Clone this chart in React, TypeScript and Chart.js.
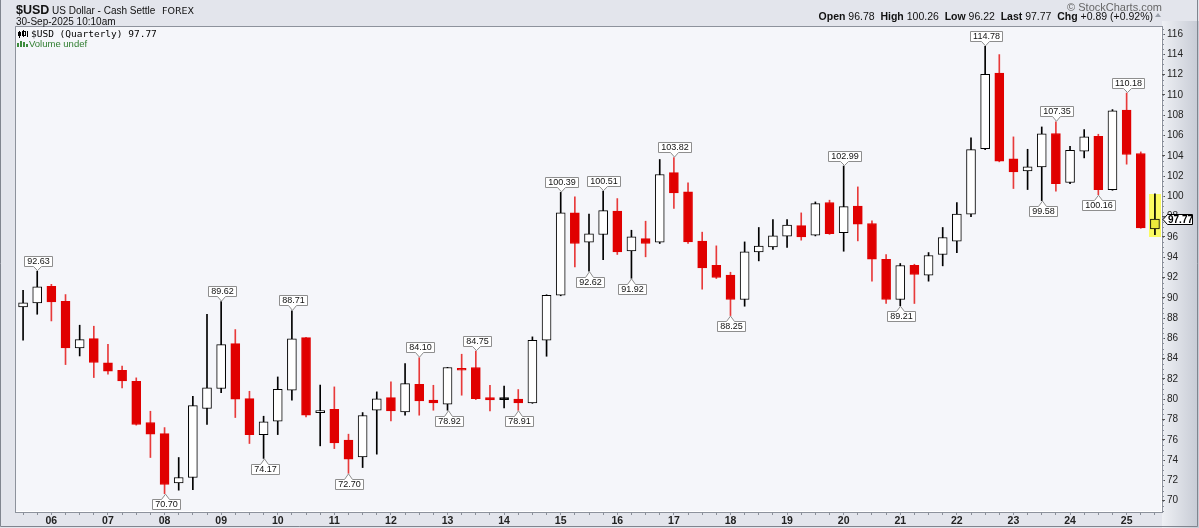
import React, { useEffect, useRef } from "react";
import { Chart, registerables } from "chart.js";

Chart.register(...registerables);

// ---- data (quarterly $USD candles, 2005 Q3 .. 2025 Q3) ----
const categories: string[] = [
  "2005-Q3", "2005-Q4",
  "2006-Q1", "2006-Q2", "2006-Q3", "2006-Q4",
  "2007-Q1", "2007-Q2", "2007-Q3", "2007-Q4",
  "2008-Q1", "2008-Q2", "2008-Q3", "2008-Q4",
  "2009-Q1", "2009-Q2", "2009-Q3", "2009-Q4",
  "2010-Q1", "2010-Q2", "2010-Q3", "2010-Q4",
  "2011-Q1", "2011-Q2", "2011-Q3", "2011-Q4",
  "2012-Q1", "2012-Q2", "2012-Q3", "2012-Q4",
  "2013-Q1", "2013-Q2", "2013-Q3", "2013-Q4",
  "2014-Q1", "2014-Q2", "2014-Q3", "2014-Q4",
  "2015-Q1", "2015-Q2", "2015-Q3", "2015-Q4",
  "2016-Q1", "2016-Q2", "2016-Q3", "2016-Q4",
  "2017-Q1", "2017-Q2", "2017-Q3", "2017-Q4",
  "2018-Q1", "2018-Q2", "2018-Q3", "2018-Q4",
  "2019-Q1", "2019-Q2", "2019-Q3", "2019-Q4",
  "2020-Q1", "2020-Q2", "2020-Q3", "2020-Q4",
  "2021-Q1", "2021-Q2", "2021-Q3", "2021-Q4",
  "2022-Q1", "2022-Q2", "2022-Q3", "2022-Q4",
  "2023-Q1", "2023-Q2", "2023-Q3", "2023-Q4",
  "2024-Q1", "2024-Q2", "2024-Q3", "2024-Q4",
  "2025-Q1", "2025-Q2", "2025-Q3",
];

const opens: number[] = [
  89.10, 89.50,
  91.14, 89.66, 85.06, 85.98,
  83.58, 82.86, 81.78, 77.71,
  76.62, 71.76, 72.29, 79.09,
  81.06, 85.49, 80.07, 76.52,
  77.84, 80.89, 86.08, 78.69,
  79.02, 75.97, 74.32, 78.92,
  80.17, 78.76, 81.48, 79.91,
  79.51, 83.03, 83.13, 80.17,
  80.17, 80.01, 79.64, 85.82,
  90.26, 98.37, 95.48, 96.24,
  98.54, 94.63, 95.84, 95.48,
  102.34, 100.44, 95.58, 93.21,
  92.23, 89.83, 94.53, 95.02,
  96.07, 97.12, 96.17, 99.39,
  96.43, 99.03, 97.32, 93.80,
  89.83, 93.21, 92.23, 94.27,
  95.58, 98.24, 104.71, 112.16,
  103.69, 102.51, 102.90, 106.19,
  101.36, 104.45, 105.92, 100.67,
  108.49, 104.22, 96.78,
];

const highs: number[] = [
  90.74, 92.63,
  91.33, 90.32, 87.30, 87.20,
  85.42, 83.26, 82.11, 78.82,
  77.21, 74.26, 80.30, 88.38,
  89.62, 86.87, 80.79, 78.33,
  82.20, 88.71, 86.10, 81.40,
  81.22, 76.56, 78.69, 80.73,
  81.71, 83.52, 84.10, 81.38,
  83.15, 84.44, 84.75, 81.38,
  81.29, 80.96, 86.15, 90.30,
  100.39, 99.95, 98.24, 100.51,
  99.78, 96.66, 97.55, 103.63,
  103.82, 101.33, 96.47, 95.12,
  92.52, 95.51, 96.93, 97.71,
  97.71, 98.37, 99.45, 99.62,
  102.99, 100.93, 97.58, 94.27,
  93.38, 93.31, 94.46, 96.93,
  99.39, 105.76, 114.78, 113.97,
  105.86, 104.64, 106.84, 107.35,
  104.94, 106.58, 106.12, 108.55,
  110.18, 104.38, 100.26,
];

const lows: number[] = [
  85.82, 88.38,
  87.72, 83.42, 84.27, 82.14,
  82.47, 81.12, 77.45, 74.26,
  70.70, 71.04, 71.10, 77.51,
  80.66, 78.20, 75.64, 74.17,
  76.52, 79.90, 78.27, 75.41,
  75.14, 72.70, 73.27, 74.59,
  77.87, 78.43, 78.43, 78.92,
  78.92, 80.40, 79.97, 78.86,
  79.15, 78.91, 79.60, 84.24,
  90.20, 93.05, 92.62, 93.77,
  94.27, 91.92, 94.04, 95.35,
  98.80, 95.35, 90.85, 91.90,
  88.25, 89.17, 93.64, 94.76,
  94.96, 95.68, 96.10, 96.25,
  94.59, 95.61, 91.64, 89.44,
  89.21, 89.44, 91.64, 93.15,
  94.46, 98.00, 104.60, 103.40,
  100.77, 100.67, 99.58, 100.50,
  101.26, 103.79, 100.16, 100.60,
  103.17, 96.85, 96.22,
];

const closes: number[] = [
  89.50, 91.07,
  89.60, 85.06, 85.88, 83.62,
  82.76, 81.81, 77.51, 76.56,
  71.60, 72.29, 79.38, 81.12,
  85.39, 80.00, 76.52, 77.77,
  80.99, 85.95, 78.43, 78.86,
  75.70, 74.09, 78.40, 80.04,
  78.86, 81.55, 79.84, 79.64,
  83.13, 82.86, 80.07, 79.93,
  79.97, 79.64, 85.82, 90.25,
  98.37, 95.35, 96.30, 98.60,
  94.53, 96.01, 95.35, 102.15,
  100.34, 95.51, 92.95, 92.00,
  89.83, 94.53, 95.09, 96.10,
  97.16, 96.00, 99.29, 96.33,
  98.99, 97.25, 93.80, 89.83,
  93.18, 92.30, 94.17, 95.94,
  98.24, 104.61, 112.03, 103.46,
  102.41, 102.90, 106.15, 101.26,
  104.54, 105.86, 100.67, 108.42,
  104.12, 96.88, 97.77,
];

// quarters whose high / low carry a callout label
const highLabelQuarters: string[] = [
  "2005-Q4", "2009-Q1", "2010-Q2", "2012-Q3", "2013-Q3", "2015-Q1",
  "2015-Q4", "2017-Q1", "2020-Q1", "2022-Q3", "2023-Q4", "2025-Q1",
];
const lowLabelQuarters: string[] = [
  "2008-Q1", "2009-Q4", "2011-Q2", "2013-Q1", "2014-Q2", "2015-Q3",
  "2016-Q2", "2018-Q1", "2021-Q1", "2023-Q3", "2024-Q3",
];

const yTicks: number[] = [
  70, 72, 74, 76, 78, 80, 82, 84, 86, 88, 90, 92, 94, 96, 98, 100,
  102, 104, 106, 108, 110, 112, 114, 116,
];
const yMin = 68.89;
const yMax = 116.69;

const W = 1199;
const H = 528;
const RED = "#e00000";
const SANS = '"Liberation Sans", Arial, sans-serif';

export default function App() {
  const ref = useRef<HTMLCanvasElement>(null);

  useEffect(() => {
    const canvas = ref.current;
    if (!canvas) return;
    const n = categories.length;
    const last = n - 1;

    const tone = (i: number) => {
      if (i === last) return "#000";
      const prev = i > 0 ? closes[i - 1] : opens[i];
      return closes[i] < prev ? RED : "#000";
    };
    const bodyFill = categories.map((_, i) =>
      i === last ? "#ecea3c" : closes[i] >= opens[i] ? "#ffffff" : tone(i)
    );
    const bodyBorder = categories.map((_, i) => tone(i));
    const wickColor = categories.map((_, i) => (tone(i) === RED ? "#e83a3a" : "#000"));

    const callout = (
      ctx: CanvasRenderingContext2D,
      x: number,
      yTip: number,
      text: string,
      dir: number
    ) => {
      ctx.font = `9px ${SANS}`;
      const tw = ctx.measureText(text).width;
      const w = Math.round(tw + 5);
      const h = 10;
      const notch = 5;
      const hw = 4;
      const bx = Math.round(x - w / 2) + 0.5;
      const edge = Math.round(yTip + dir * notch) + 0.5;
      const far = edge + dir * h;
      ctx.beginPath();
      ctx.moveTo(bx, edge);
      ctx.lineTo(x - hw, edge);
      ctx.lineTo(x, yTip);
      ctx.lineTo(x + hw, edge);
      ctx.lineTo(bx + w, edge);
      ctx.lineTo(bx + w, far);
      ctx.lineTo(bx, far);
      ctx.closePath();
      ctx.fillStyle = "#ffffff";
      ctx.fill();
      ctx.strokeStyle = "#8e8e8e";
      ctx.lineWidth = 1;
      ctx.stroke();
      ctx.fillStyle = "#111";
      ctx.textAlign = "center";
      ctx.textBaseline = "middle";
      ctx.fillText(text, bx + w / 2, (edge + far) / 2 + 0.5);
    };

    const stockPlugin = {
      id: "stockDecor",
      beforeDraw(chart: any) {
        const ctx: CanvasRenderingContext2D = chart.ctx;
        const ca = chart.chartArea;
        ctx.save();
        ctx.fillStyle = "#e3e5ec";
        ctx.fillRect(0, 0, W, H);
        const g = ctx.createLinearGradient(ca.right, 0, W, 0);
        g.addColorStop(0, "#eef0f4");
        g.addColorStop(1, "#c6cad4");
        ctx.fillStyle = g;
        ctx.fillRect(ca.right, ca.top - 6, W - ca.right, H - ca.top + 6);
        ctx.fillStyle = "#f5f6fa";
        ctx.fillRect(ca.left, ca.top, ca.right - ca.left, ca.bottom - ca.top);
        ctx.strokeStyle = "#ffffff";
        ctx.lineWidth = 1;
        ctx.beginPath();
        ctx.moveTo(ca.right - 0.5, ca.top);
        ctx.lineTo(ca.right - 0.5, ca.bottom - 0.5);
        ctx.lineTo(ca.left, ca.bottom - 0.5);
        ctx.stroke();
        ctx.strokeStyle = "#8d929c";
        ctx.strokeRect(ca.left - 0.5, ca.top - 0.5, ca.right - ca.left + 1, ca.bottom - ca.top + 1);
        // outer frame
        ctx.strokeStyle = "#80858f";
        ctx.beginPath();
        ctx.moveTo(0.5, 0);
        ctx.lineTo(0.5, H - 1.5);
        ctx.lineTo(W - 1.5, H - 1.5);
        ctx.lineTo(W - 1.5, 0);
        ctx.stroke();
        ctx.restore();
      },
      beforeDatasetsDraw(chart: any) {
        const ctx: CanvasRenderingContext2D = chart.ctx;
        const xs = chart.scales.x;
        const ys = chart.scales.y;
        const x = xs.getPixelForValue(last);
        const top = ys.getPixelForValue(highs[last]);
        const bot = ys.getPixelForValue(lows[last]) + 2;
        ctx.save();
        ctx.fillStyle = "#fbfb62";
        ctx.fillRect(Math.round(x - 6), Math.round(top), 12, Math.round(bot - top));
        ctx.restore();
      },
      afterDatasetsDraw(chart: any) {
        const ctx: CanvasRenderingContext2D = chart.ctx;
        const xs = chart.scales.x;
        const ys = chart.scales.y;
        const ca = chart.chartArea;
        ctx.save();
        highLabelQuarters.forEach((q) => {
          const i = categories.indexOf(q);
          const x = Math.round(xs.getPixelForValue(i)) + 0.5;
          const y = ys.getPixelForValue(highs[i]) - 0.5;
          callout(ctx, x, y, highs[i].toFixed(2), -1);
        });
        lowLabelQuarters.forEach((q) => {
          const i = categories.indexOf(q);
          const x = Math.round(xs.getPixelForValue(i)) + 0.5;
          const y = ys.getPixelForValue(lows[i]) + 0.5;
          callout(ctx, x, y, lows[i].toFixed(2), 1);
        });

        // minor ticks along the price axis
        ctx.fillStyle = "#8a8f99";
        for (let v = Math.ceil(yMin * 2) / 2; v <= yMax; v += 0.5) {
          const y = Math.round(ys.getPixelForValue(v));
          ctx.fillRect(ca.right, y, 2, 1);
        }

        // last value tag
        const yl = Math.round(ys.getPixelForValue(closes[last])) + 0.5;
        const x0 = ca.right + 1;
        const bx0 = ca.right + 5.5;
        const bx1 = ca.right + 30.5;
        ctx.beginPath();
        ctx.moveTo(x0, yl);
        ctx.lineTo(bx0, yl - 5);
        ctx.lineTo(bx1, yl - 5);
        ctx.lineTo(bx1, yl + 5);
        ctx.lineTo(bx0, yl + 5);
        ctx.closePath();
        ctx.fillStyle = "#ffffff";
        ctx.fill();
        ctx.strokeStyle = "#000";
        ctx.lineWidth = 1;
        ctx.stroke();
        ctx.fillStyle = "#000";
        ctx.font = `bold 10px ${SANS}`;
        ctx.textAlign = "center";
        ctx.textBaseline = "middle";
        ctx.fillText(closes[last].toFixed(2), (bx0 + bx1) / 2 + 0.5, yl + 0.5);
        ctx.restore();
      },
      afterDraw(chart: any) {
        const ctx: CanvasRenderingContext2D = chart.ctx;
        const ca = chart.chartArea;
        ctx.save();
        ctx.textBaseline = "alphabetic";
        ctx.textAlign = "left";
        ctx.fillStyle = "#111";
        ctx.font = `bold 12.5px ${SANS}`;
        ctx.fillText("$USD", 16, 14);
        ctx.font = `10px ${SANS}`;
        ctx.fillText("US Dollar - Cash Settle", 52, 14);
        ctx.font = `9.5px "DejaVu Sans", sans-serif`;
        ctx.fillText("FOREX", 162, 14);
        ctx.font = `10px ${SANS}`;
        ctx.fillText("30-Sep-2025 10:10am", 16, 25);

        // copyright
        ctx.textAlign = "right";
        ctx.fillStyle = "#666";
        ctx.font = `11px ${SANS}`;
        ctx.fillText("\u00a9 StockCharts.com", ca.right, 10.5);

        // OHLC summary line
        const chg = closes[last] - closes[last - 1];
        const pct = (chg / closes[last - 1]) * 100;
        const sign = chg >= 0 ? "+" : "-";
        const segs: [string, boolean][] = [
          ["Open", true], [` ${opens[last].toFixed(2)}  `, false],
          ["High", true], [` ${highs[last].toFixed(2)}  `, false],
          ["Low", true], [` ${lows[last].toFixed(2)}  `, false],
          ["Last", true], [` ${closes[last].toFixed(2)}  `, false],
          ["Chg", true], [` ${sign}${Math.abs(chg).toFixed(2)} (${sign}${Math.abs(pct).toFixed(2)}%)`, false],
        ];
        const fb = `bold 10.5px ${SANS}`;
        const fn = `10.5px ${SANS}`;
        let total = 0;
        segs.forEach(([t, b]) => {
          ctx.font = b ? fb : fn;
          total += ctx.measureText(t).width;
        });
        let cx = ca.right - 9 - total;
        ctx.textAlign = "left";
        ctx.fillStyle = "#111";
        segs.forEach(([t, b]) => {
          ctx.font = b ? fb : fn;
          ctx.fillText(t, cx, 19.5);
          cx += ctx.measureText(t).width;
        });
        ctx.fillStyle = "#9aa0aa";
        ctx.beginPath();
        ctx.moveTo(ca.right - 7, 17);
        ctx.lineTo(ca.right - 1, 17);
        ctx.lineTo(ca.right - 4, 13);
        ctx.closePath();
        ctx.fill();

        // in-chart legend
        ctx.fillStyle = "#000";
        ctx.fillRect(19, 31, 1, 7);
        ctx.fillRect(18, 32, 3, 4);
        ctx.fillRect(23, 30, 1, 7);
        ctx.strokeStyle = "#000";
        ctx.lineWidth = 1;
        ctx.strokeRect(22.5, 31.5, 3, 4);
        ctx.fillRect(27, 31, 1, 6);
        ctx.font = `9.5px "DejaVu Sans Mono", monospace`;
        ctx.fillText(`$USD (Quarterly) ${closes[last].toFixed(2)}`, 31, 37);
        ctx.fillStyle = "#3c8c3c";
        ctx.fillRect(17, 43, 2, 4);
        ctx.fillRect(20, 41, 2, 6);
        ctx.fillRect(23, 42, 2, 5);
        ctx.fillRect(26, 44, 2, 3);
        ctx.fillStyle = "#2e7d2e";
        ctx.font = `9.5px ${SANS}`;
        ctx.fillText("Volume undef", 29, 46.5);
        ctx.restore();
      },
    };

    const chart = new Chart(canvas, {
      type: "bar",
      data: {
        labels: categories,
        datasets: [
          {
            label: "body",
            data: categories.map((_, i) => [opens[i], closes[i]]) as any,
            backgroundColor: bodyFill,
            borderColor: bodyBorder,
            borderWidth: 1,
            borderSkipped: false,
            barThickness: 9,
            minBarLength: 2,
            grouped: false,
          },
          {
            label: "wick",
            data: categories.map((_, i) => [lows[i], highs[i]]) as any,
            backgroundColor: wickColor,
            borderWidth: 0,
            barThickness: 1,
            grouped: false,
          },
        ],
      },
      options: {
        responsive: false,
        animation: false,
        events: [],
        layout: { padding: { left: 16, top: 27, right: 0, bottom: 0 } },
        plugins: {
          legend: { display: false },
          tooltip: { enabled: false },
        },
        scales: {
          x: {
            type: "category",
            offset: true,
            grid: {
              display: true,
              drawOnChartArea: false,
              offset: false,
              tickLength: 3,
              color: "#8a8f99",
            },
            border: { display: false },
            ticks: {
              autoSkip: false,
              maxRotation: 0,
              minRotation: 0,
              padding: 0,
              color: "#222",
              font: { family: SANS, size: 10.5, weight: "bold" },
              callback: (_v: any, i: number) =>
                categories[i].endsWith("Q1") ? categories[i].slice(2, 4) : "",
            },
            afterFit: (s: any) => {
              s.height = 16;
            },
          },
          y: {
            position: "right",
            min: yMin,
            max: yMax,
            afterBuildTicks: (s: any) => {
              s.ticks = yTicks.map((v) => ({ value: v }));
            },
            grid: {
              drawOnChartArea: false,
              tickLength: 3,
              color: "#555",
            },
            border: { display: false },
            ticks: {
              padding: 2,
              color: "#222",
              font: { family: SANS, size: 10 },
              callback: (v: any) => String(v),
            },
            afterFit: (s: any) => {
              s.width = 37;
            },
          },
        },
      } as any,
      plugins: [stockPlugin],
    });

    return () => chart.destroy();
  }, []);

  return (
    <div style={{ position: "fixed", left: 0, top: 0, width: W, height: H }}>
      <canvas ref={ref} width={W} height={H} style={{ display: "block" }} />
    </div>
  );
}
